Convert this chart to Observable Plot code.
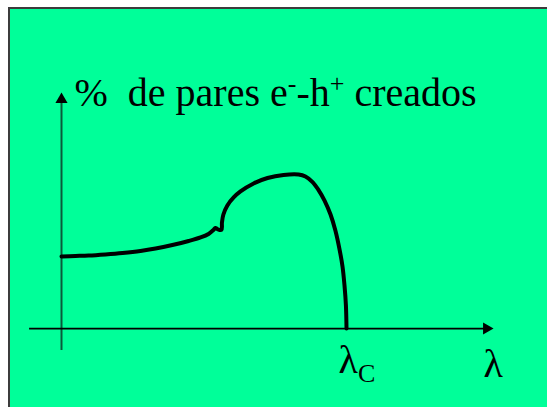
<!DOCTYPE html>
<html>
<head>
<meta charset="utf-8">
<script src="https://cdn.jsdelivr.net/npm/d3@7"></script>
<script src="https://cdn.jsdelivr.net/npm/@observablehq/plot@0.6"></script>
</head>
<body style="margin:0">
<div id="slide" style="position:absolute;left:8px;top:7px;width:537px;height:398px;background:#00ff99;border-left:2px solid #3c3c3c;border-top:2px solid #3c3c3c"></div>
<script>
// Wavelength, in units of the cut-off wavelength λC
const lambda = [0, 0.049, 0.095, 0.154, 0.214, 0.277, 0.330, 0.389, 0.446, 0.488, 0.516, 0.533,
  0.540, 0.547, 0.561, 0.563, 0.568, 0.582, 0.604, 0.628, 0.674, 0.723, 0.779, 0.832,
  0.856, 0.881, 0.902, 0.923, 0.944, 0.961, 0.975, 0.986, 0.993, 0.998, 1];
// Electron-hole pairs created, % of the maximum
const pairs = [46.8, 47.1, 47.4, 48.1, 49.0, 50.3, 51.9, 54.2, 56.8, 59.1, 61.4, 64.0,
  65.3, 64.6, 64.0, 68.8, 74.0, 79.9, 85.1, 89.0, 94.2, 97.7, 99.7, 100,
  98.7, 95.1, 89.9, 83.1, 74.0, 63.6, 51.9, 40.3, 27.9, 14.9, 0];

// Axis extents (data units)
const xAxisExtent = [-0.112, 1.516];
const yAxisExtent = [-14.3, 153.2];

// Labels, split into normal / superscript / subscript runs
const titleParts = [
  {t: "%  de pares e"}, {t: "-", sup: true}, {t: "-h"}, {t: "+", sup: true}, {t: " creados"}
];
const cutoffParts = [{t: "λ"}, {t: "C", sub: true}];
const axisLabel = "λ";

const joinParts = parts => parts.map(p => p.t).join("");
const titleText = joinParts(titleParts);
const cutoffText = joinParts(cutoffParts);

const curve = lambda.map((l, i) => ({lambda: l, pairs: pairs[i]}));

const chart = Plot.plot({
  width: 547,
  height: 407,
  margin: 0,
  x: {domain: [0, 1], range: [61, 346], axis: null},
  y: {domain: [0, 100], range: [328, 174], axis: null},
  marks: [
    // vertical axis with arrowhead
    Plot.ruleX([0], {y1: yAxisExtent[0], y2: yAxisExtent[1] - 5, stroke: "#0b5a3a", strokeWidth: 2}),
    Plot.dot([0], {x: 0, y: yAxisExtent[1], symbol: "triangle", r: 4.5, fill: "black", stroke: "none", dy: 7}),
    // horizontal axis with arrowhead
    Plot.ruleY([0], {x1: xAxisExtent[0], x2: xAxisExtent[1] - 0.02, stroke: "black", strokeWidth: 1.75}),
    Plot.dot([0], {x: xAxisExtent[1], y: 0, symbol: "triangle", r: 4.5, rotate: 90, fill: "black", stroke: "none", dx: -7}),
    // response curve
    Plot.line(curve, {x: "lambda", y: "pairs", stroke: "black", strokeWidth: 4, curve: "catmull-rom"}),
    // labels
    Plot.text([titleText], {x: 0, y: 152.5, dx: 13, text: d => d, textAnchor: "start",
      fontSize: 40, fontFamily: "Liberation Serif"}),
    Plot.text([cutoffText], {x: 1, y: -20.3, dx: -8, text: d => d, textAnchor: "start",
      fontSize: 40, fontFamily: "Liberation Serif"}),
    Plot.text([axisLabel], {x: xAxisExtent[1], y: -22.9, dx: -10, text: d => d, textAnchor: "start",
      fontSize: 40, fontFamily: "Liberation Serif"})
  ]
});
// the slide box starts at (10, 9) inside its border; keep page coordinates for the chart
chart.style.background = "transparent";
chart.style.marginLeft = "-10px";
chart.style.marginTop = "-9px";
chart.style.maxWidth = "none";

// Rebuild labels with raised / lowered runs
function richText(node, parts, smallSize, supShift, subShift) {
  node.textContent = "";
  let shift = 0;
  for (const p of parts) {
    const span = d3.select(node).append("tspan").text(p.t);
    const target = p.sup ? -supShift : p.sub ? subShift : 0;
    if (target !== shift) { span.attr("dy", target - shift); shift = target; }
    if (p.sup || p.sub) span.attr("font-size", smallSize);
  }
}
d3.select(chart).selectAll("text").each(function() {
  const s = this.textContent;
  if (s === titleText) richText(this, titleParts, 26, 14, 0);
  else if (s === cutoffText) richText(this, cutoffParts, 26, 0, 9);
});

document.getElementById("slide").append(chart);
</script>
</body>
</html>
